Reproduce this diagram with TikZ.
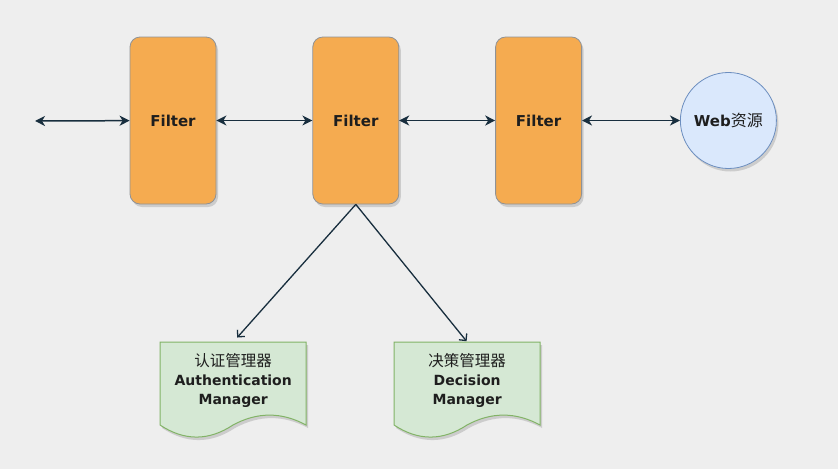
\documentclass[tikz,border=0pt]{standalone}
\usepackage{fontspec}
\setmainfont{DejaVu Sans}
\newfontfamily\cjk{Noto Sans CJK SC}
\usetikzlibrary{positioning}
\usetikzlibrary{arrows.meta,shadows}
\definecolor{canvasgray}{HTML}{EEEEEE}
\definecolor{filterfill}{HTML}{F5AB50}
\definecolor{filterline}{HTML}{8F9296}
\definecolor{webfill}{HTML}{DAE8FC}
\definecolor{webline}{HTML}{6C8EBF}
\definecolor{docfill}{HTML}{D5E8D4}
\definecolor{docline}{HTML}{82B366}
\definecolor{linkcolor}{HTML}{182E3E}
\definecolor{textcolor}{HTML}{1E1E1E}
\pgfdeclarelayer{canvas}
\pgfdeclarelayer{back}
\pgfsetlayers{canvas,back,main}

% paper shape with a wavy bottom, drawn behind a doc node
\newcommand{\papershape}[1]{%
  \begin{pgfonlayer}{back}
  \draw[paper, shift={(#1.north west)}] (0,0) -- (146,0) -- (146,83)
    .. controls (121.7,69.8) and (97.3,69.8) .. (73,83)
    .. controls (48.7,99.1) and (24.3,99.1) .. (0,83) -- cycle;
  \end{pgfonlayer}}

\begin{document}
\begin{tikzpicture}
		[
		x=1pt, y=-1pt,
		font=\bfseries\fontsize{14}{19}\selectfont,
		text=textcolor,
		node distance=96pt,
		soft shadow/.style={drop shadow={opacity=0.3, shadow xshift=2pt, shadow yshift=-3pt, fill=gray}}
		]
		
		% Node styles: filter, web resource and paper
		\tikzstyle{filter node}=[rectangle,rounded corners=10pt,draw=filterline,fill=filterfill,line width=0.8pt,minimum width=86pt,minimum height=167pt,font=\bfseries\fontsize{15}{19}\selectfont,soft shadow];
		\tikzstyle{web node}=[circle,draw=webline,fill=webfill,line width=0.8pt,minimum size=96pt,inner sep=0pt,font=\bfseries\fontsize{15}{19}\selectfont,soft shadow];
		\tikzstyle{doc node}=[rectangle,minimum width=146pt,minimum height=76pt,inner sep=0pt,align=center,anchor=north west];
		\tikzstyle{paper}=[draw=docline,fill=docfill,line width=1pt,soft shadow];
		
		% Connector styles
		\tikzstyle{both way}=[draw=linkcolor,line width=1.5pt,{Stealth[length=10pt,width=10pt,inset=3pt]}-{Stealth[length=10pt,width=10pt,inset=3pt]}];
		\tikzstyle{down way}=[draw=linkcolor,line width=1.3pt,-{Straight Barb[length=5pt,width=10pt]}];
		
		% Canvas
		\begin{pgfonlayer}{canvas}
		\fill[canvasgray](0,0)rectangle(838,469);
		\end{pgfonlayer}
		\useasboundingbox(0,0)rectangle(838,469);
		
		% The filter chain
		\node(f1)[filter node]at(173,120.5){Filter};
		\node(f2)[filter node,right=of f1]{Filter};
		\node(f3)[filter node,right=of f2]{Filter};
		\node(web)[web node,right=98pt of f3]{Web{\cjk\mdseries\fontsize{16}{19}\selectfont 资源}};
		\coordinate(in)at(35,121);
		
		% The two managers
		\node(auth)[doc node]at(160,342){{\cjk\mdseries\fontsize{15.5}{19}\selectfont 认证管理器}\\Authentication\\Manager};
		\node(dec)[doc node]at(394,342){{\cjk\mdseries\fontsize{15.5}{19}\selectfont 决策管理器}\\Decision\\Manager};
		\papershape{auth}
		\papershape{dec}
		
		% Connectors
		\draw[both way](in)--(f1);
		\draw[both way](f1)--(f2);
		\draw[both way](f2)--(f3);
		\draw[both way](f3)--(web);
		\draw[down way,shorten >=6pt](f2.south)--(auth.north);
		\draw[down way,shorten >=1pt](f2.south)--(dec.north);
		\end{tikzpicture}
\end{document}
